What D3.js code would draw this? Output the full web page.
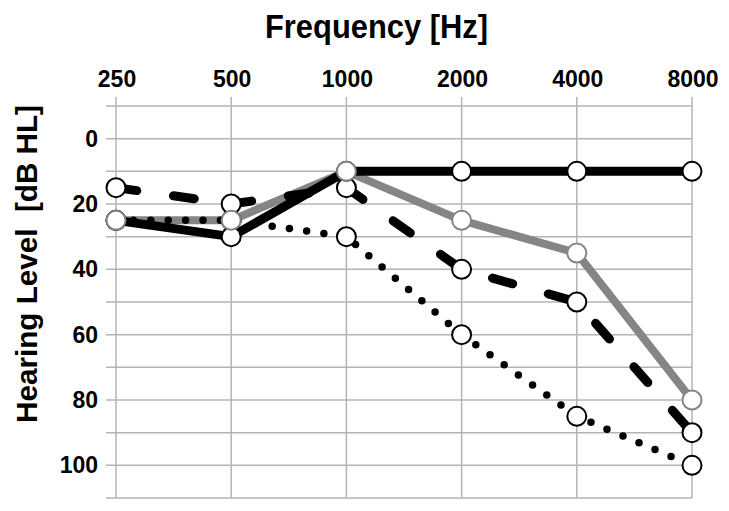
<!DOCTYPE html>
<html>
<head>
<meta charset="utf-8">
<script src="https://cdn.jsdelivr.net/npm/d3@7"></script>
<style>
  body { margin: 0; background: #fff; }
  text { font-family: "Liberation Sans", Arial, sans-serif; font-weight: bold; fill: #000; white-space: pre; }
</style>
</head>
<body>
<div id="chart"></div>
<script>
const width = 729,
  height = 511;

const frequencies = ["250", "500", "1000", "2000", "4000", "8000"];
const levelTicks = [0, 20, 40, 60, 80, 100];

const solidBlack = [25, 30, 10, 10, 10, 10];
const solidGray = [25, 25, 10, 25, 35, 80];
const dashedBlack = [15, 20, 15, 40, 50, 90];
const dottedBlack = [25, 25, 30, 60, 85, 100];

const x = d3.scalePoint().domain(frequencies).range([116, 692]);
const y = d3.scaleLinear().domain([-10, 110]).range([106, 498]);

const svg = d3
  .select("#chart")
  .append("svg")
  .attr("width", width)
  .attr("height", height);

// grid
svg
  .selectAll(".hgrid")
  .data(d3.range(-10, 111, 10))
  .enter()
  .append("line")
  .attr("x1", 106)
  .attr("x2", 692)
  .attr("y1", (d) => y(d))
  .attr("y2", (d) => y(d))
  .attr("stroke", "#b4b4b4")
  .attr("stroke-width", 1.5);

svg
  .selectAll(".vgrid")
  .data(frequencies)
  .enter()
  .append("line")
  .attr("x1", (d) => x(d))
  .attr("x2", (d) => x(d))
  .attr("y1", 97)
  .attr("y2", y(110))
  .attr("stroke", "#b4b4b4")
  .attr("stroke-width", 1.5);

// tick labels
svg
  .selectAll(".xlab")
  .data(frequencies)
  .enter()
  .append("text")
  .attr("x", (d) => x(d) + 1)
  .attr("y", 87)
  .attr("text-anchor", "middle")
  .style("font-size", "23px")
  .text((d) => d);

svg
  .selectAll(".ylab")
  .data(levelTicks)
  .enter()
  .append("text")
  .attr("x", 98)
  .attr("y", (d) => y(d) + 8)
  .attr("text-anchor", "end")
  .style("font-size", "23px")
  .text((d) => d);

// titles
svg
  .append("text")
  .attr("x", 265)
  .attr("y", 38)
  .attr("textLength", 223)
  .attr("lengthAdjust", "spacingAndGlyphs")
  .style("font-size", "34px")
  .text("Frequency [Hz]");

svg
  .append("text")
  .attr("transform", "translate(37,264) rotate(-90)")
  .attr("text-anchor", "middle")
  .attr("textLength", 318)
  .attr("lengthAdjust", "spacingAndGlyphs")
  .style("font-size", "30px")
  .text("Hearing Level  [dB HL]");

// series
const line = d3
  .line()
  .x((d, i) => x(frequencies[i]))
  .y((d) => y(d));

const series = [
  { values: solidGray, color: "#858585", width: 8, dash: null, marker: "#858585" },
  { values: solidBlack, color: "#000", width: 9, dash: null, marker: "#000" },
  { values: dashedBlack, color: "#000", width: 9, dash: "21,37", marker: "#000" },
  { values: dottedBlack, color: "#000", width: 7.5, dash: "0,17.4", marker: "#000" },
];

series.forEach((s) => {
  svg
    .append("path")
    .attr("d", line(s.values))
    .attr("fill", "none")
    .attr("stroke", s.color)
    .attr("stroke-width", s.width)
    .attr("stroke-linecap", s.dash ? "round" : "butt")
    .attr("stroke-linejoin", "round")
    .attr("stroke-dasharray", s.dash);
});

// markers, gray last so its outline is on top at 1000 Hz
[series[3], series[2], series[1], series[0]].forEach((s) => {
  svg
    .selectAll(null)
    .data(s.values)
    .enter()
    .append("circle")
    .attr("cx", (d, i) => x(frequencies[i]))
    .attr("cy", (d) => y(d))
    .attr("r", 9.5)
    .attr("fill", "#fff")
    .attr("stroke", s.marker)
    .attr("stroke-width", 2);
});
</script>
</body>
</html>
